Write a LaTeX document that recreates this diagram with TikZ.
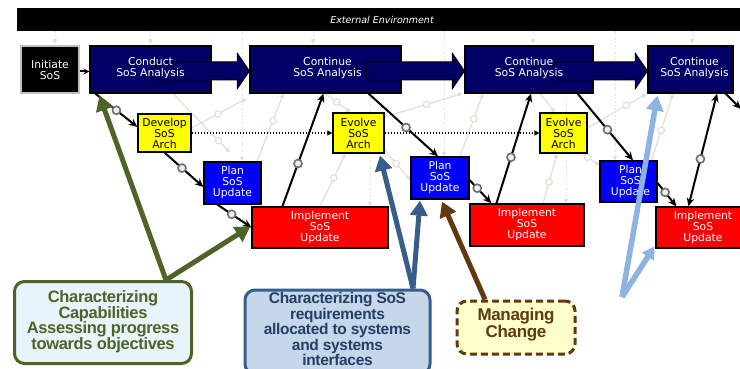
\documentclass[tikz,border=0pt]{standalone}
\usepackage{fontspec}
\setmainfont{DejaVu Sans}
\newfontfamily\calloutfont{Liberation Sans}[LetterSpace=-2]
\usetikzlibrary{arrows.meta,calc,backgrounds}

\definecolor{navyfill}{RGB}{0,0,102}
\definecolor{planblue}{RGB}{0,0,255}
\definecolor{implred}{RGB}{255,0,0}
\definecolor{archyellow}{RGB}{255,255,0}
\definecolor{ghostc}{RGB}{226,224,210}
\definecolor{gatec}{RGB}{110,110,110}
\definecolor{greenc}{RGB}{79,98,40}
\definecolor{greenfill}{RGB}{232,244,252}
\definecolor{bluec}{RGB}{56,93,138}
\definecolor{bluefill}{RGB}{198,214,235}
\definecolor{bluetext}{RGB}{36,62,100}
\definecolor{brownc}{RGB}{99,56,14}
\definecolor{brownfill}{RGB}{255,255,204}
\definecolor{skyc}{RGB}{141,179,226}

% wide block arrow from a point inside one box to the west side of the next
\newcommand{\bigflow}[2]{%
  \draw[flowarrow] let \p1=(#1), \p2=(#2) in
    (\x1,\y1+9pt) -- (\x2-12pt,\y1+9pt) -- (\x2-12pt,\y1+17.5pt) -- (\x2,\y1)
    -- (\x2-12pt,\y1-17.5pt) -- (\x2-12pt,\y1-9pt) -- (\x1,\y1-9pt) -- cycle;}

\begin{document}
\begin{tikzpicture}[x=1pt,y=-1pt,
  procbox/.style={draw=black, line width=1.2pt, inner sep=0pt},
  navybox/.style={procbox, fill=navyfill},
  archbox/.style={procbox, fill=archyellow},
  planbox/.style={procbox, fill=planblue},
  implbox/.style={procbox, fill=implred},
  boxlabel/.style={align=center, inner sep=0pt, text=white,
    font=\fontsize{10.8}{11}\selectfont},
  archlabel/.style={boxlabel, text=black},
  link/.style={draw=black, line width=2pt, -{Stealth[length=8.5pt,width=7.5pt]}},
  gate/.style={circle, draw=gatec, line width=1.6pt, fill=gray!12,
    minimum size=8pt, inner sep=0pt},
  dotlink/.style={draw=black, line width=1.4pt, dash pattern=on 1.4pt off 1.6pt,
    -{Triangle[length=5pt,width=5pt]}},
  flowarrow/.style={draw=black, line width=1pt, fill=navyfill, line join=miter},
  ghost/.style={draw=ghostc, line width=1.2pt, -{Triangle[length=4.5pt,width=4.5pt]}},
  ghostdot/.style={ghost, line width=1pt, dash pattern=on 1.5pt off 2pt},
  ghostgate/.style={circle, draw=ghostc, line width=1.2pt, fill=white,
    minimum size=6.5pt, inner sep=0pt},
  callout/.style={rounded corners=10pt, line width=3pt, align=center, inner sep=0pt},
  callouttext/.style={align=center, inner sep=0pt},
  calloutarrow/.style={line width=5pt, -{Triangle[length=15pt,width=17pt]}},
]
\useasboundingbox (0,0) rectangle (740,369);
\clip (0,0) rectangle (740,369);

% environment bar
\node[fill=black, minimum width=730, minimum height=23, inner sep=0pt, text=white,
      font=\fontsize{9.5}{10}\selectfont\itshape] (envbar) at (382,19.5) {External Environment};

% process boxes
\node[procbox, fill=black, draw=gray!50, minimum width=58, minimum height=47] (init) at (50,69.5) {};
\node[navybox, minimum width=121, minimum height=47] (conduct) at (150.5,69.5) {};
\node[navybox, minimum width=151, minimum height=47] (cont1) at (325.5,69.5) {};
\node[navybox, minimum width=128, minimum height=47] (cont2) at (529,69.5) {};
\node[navybox, minimum width=85, minimum height=47] (cont3) at (690.5,69.5) {};

\node[archbox, minimum width=53, minimum height=38] (develop) at (164.5,133) {};
\node[archbox, minimum width=51, minimum height=40] (evolve1) at (358.5,133) {};
\node[archbox, minimum width=47, minimum height=40] (evolve2) at (563.5,133) {};

\node[planbox, minimum width=57, minimum height=42] (plan1) at (232.5,183) {};
\node[planbox, minimum width=58, minimum height=42] (plan2) at (440,178) {};
\node[planbox, minimum width=57, minimum height=41] (plan3) at (628.5,181.5) {};

\node[implbox, minimum width=136, minimum height=41] (impl1) at (320,227.5) {};
\node[implbox, minimum width=114, minimum height=42] (impl2) at (527,225) {};
\node[implbox, minimum width=94, minimum height=41] (impl3) at (703,227.5) {};

% faint background iteration pattern
\begin{pgfonlayer}{background}
\fill[white] (0,0) rectangle (740,369);
\coordinate (vA) at ([xshift=9.5]plan1.north);
\coordinate (vB) at ([xshift=4]plan2.north);
\coordinate (vC) at ([xshift=-13.5]plan3.north);
\draw[ghostdot] (envbar.south -| vA) -- (vA);
\draw[ghostdot] (envbar.south -| vB) -- (vB);
\draw[ghostdot] (envbar.south -| vC) -- (vC);
\foreach \b/\s in {init/5, conduct/0, cont1/-12.5, cont2/4, cont3/1.5} {
  \coordinate (t\b) at ([xshift=\s]\b.north);
  \draw[ghostdot] (envbar.south -| t\b) -- ([yshift=1.5]t\b);
}
\draw[ghostdot] ([xshift=44.5]cont1.south) -- ([xshift=50]impl1.north);
\draw[ghostdot] ([xshift=37]cont2.south) -- ([xshift=39]impl2.north);

\draw[ghost] ([xshift=22.5]conduct.south) -- ([xshift=-2.5,yshift=9]plan1.north)
  node[ghostgate,pos=.8] (gg1) {};
\draw[ghost] ([yshift=5]develop.east) -- ([xshift=-3,yshift=-5]cont1.south west)
  node[ghostgate,pos=.48] (gg2) {};
\draw[ghost] ([xshift=24.5]plan1.north) -- ([xshift=-42]cont1.south)
  node[ghostgate,pos=.6] (gg3) {};
\draw[ghost] (impl1.north) -- ([xshift=-13]evolve1.south)
  node[ghostgate,pos=.54] (gg4) {};
\draw[ghost] (cont1.south) -- ([xshift=-8]evolve1.north)
  node[ghostgate,pos=.45] (gg5) {};
\draw[ghost] ([yshift=16]evolve1.east) -- ([xshift=-2]cont2.south west)
  node[ghostgate,pos=.54] (gg6) {};
\draw[ghost] ([yshift=-17]evolve1.east) -- ([yshift=-2]plan2.west)
  node[ghostgate,pos=.45] (gg7) {};
\draw[ghost] ([xshift=20]plan2.north) -- ([xshift=-46]cont2.south)
  node[ghostgate,pos=.6] (gg8) {};
\draw[ghost] ([xshift=16]impl2.north) -- ([xshift=-6.5]evolve2.south)
  node[ghostgate,pos=.43] (gg9) {};
\draw[ghost] ([xshift=11]cont2.south) -- ([xshift=-8.5]evolve2.north);
\draw[ghost] ([xshift=-5]evolve2.south east) -- ([yshift=-5]plan3.north west)
  node[ghostgate,pos=.3] (gg10) {};
\draw[ghost] ([yshift=5]evolve2.east) -- ([xshift=-1]cont3.south west)
  node[ghostgate,pos=.66] (gg11) {};
\draw[ghost] ([xshift=23]plan3.north) -- ([xshift=-17.5]cont3.south)
  node[ghostgate,pos=.45] (gg12) {};
\end{pgfonlayer}

% block arrows between analysis stages
\bigflow{[shift={(1.5,1.5)}]conduct.center}{cont1.west}
\bigflow{[shift={(40.5,1.5)}]cont1.center}{cont2.west}
\bigflow{[shift={(24,1.5)}]cont2.center}{cont3.west}

% box labels
\node[boxlabel] (initlbl) at (init) {Initiate\\SoS};
\node[boxlabel] (conductlbl) at ([yshift=1]conduct) {Conduct\\SoS Analysis};
\node[boxlabel] (cont1lbl) at ([shift={(2,-1)}]cont1) {Continue\\SoS Analysis};
\node[boxlabel] (cont2lbl) at ([shift={(0,-1)}]cont2) {Continue\\SoS Analysis};
\node[boxlabel] (cont3lbl) at ([shift={(4,-1)}]cont3) {Continue\\SoS Analysis};
\node[archlabel] (developlbl) at (develop) {Develop\\SoS\\Arch};
\node[archlabel] (evolve1lbl) at (evolve1) {Evolve\\SoS\\Arch};
\node[archlabel] (evolve2lbl) at (evolve2) {Evolve\\SoS\\Arch};
\node[boxlabel] (plan1lbl) at (plan1) {Plan\\SoS\\Update};
\node[boxlabel] (plan2lbl) at (plan2) {Plan\\SoS\\Update};
\node[boxlabel] (plan3lbl) at ([xshift=2]plan3) {Plan\\SoS\\Update};
\node[boxlabel] (impl1lbl) at (impl1) {Implement\\SoS\\Update};
\node[boxlabel] (impl2lbl) at (impl2) {Implement\\SoS\\Update};
\node[boxlabel] (impl3lbl) at (impl3) {Implement\\SoS\\Update};

% process flow with gates
\draw[link, -{Stealth[length=6pt,width=6pt]}] ([yshift=-2]init.east) -- ([yshift=-2]conduct.west);
\draw[link] ([xshift=6]conduct.south west) -- ([yshift=6]develop.west)
  node[gate,pos=.5] (q1) {};
\draw[link] (develop.south) -- ([yshift=-4]plan1.west)
  node[gate,pos=.45] (q2) {};
\draw[link] ([xshift=14]plan1.south west) -- (impl1.west)
  node[gate,pos=.42] (q3) {};
\draw[link] ([xshift=31]impl1.north west) -- ([xshift=-2]cont1.south)
  node[gate,pos=.38] (q4) {};
\draw[link] ([xshift=-33]cont1.south east) -- ([xshift=-2]plan2.north)
  node[gate,pos=.54] (q5) {};
\draw[link] ([yshift=-2]plan2.east) -- ([xshift=22]impl2.north west)
  node[gate,pos=.35] (q6) {};
\draw[link] ([xshift=27]impl2.north west) -- ([xshift=2]cont2.south)
  node[gate,pos=.42] (q7) {};
\draw[link] ([xshift=-16]cont2.south east) -- ([xshift=4.5]plan3.north)
  node[gate,pos=.54] (q8) {};
\draw[link] ([yshift=-1.5]plan3.east) -- ([xshift=21]impl3.north west)
  node[gate,pos=.4] (q9) {};
\draw[link, {Stealth[length=8.5pt,width=7.5pt]}-{Stealth[length=8.5pt,width=7.5pt]}]
  ([xshift=33]impl3.north west) -- ([xshift=26.5]cont3.south)
  node[gate,pos=.42] (q10) {};
\coordinate (exitR) at (741,109);
\draw[link] ([xshift=-8]cont3.south east) -- (exitR);

% architecture hand-offs
\draw[dotlink] (develop.east) -- (evolve1.west);
\draw[dotlink] (evolve1.east) -- (evolve2.west);

% callouts
\node[callout, draw=greenc, fill=greenfill, minimum width=177, minimum height=82] (greencall) at (103,322.5) {};
\node[callouttext, text=greenc, font=\calloutfont\bfseries\fontsize{16.5}{15.5}\selectfont]
  (greentxt) at ([yshift=1]greencall)
  {Characterizing\\Capabilities\\Assessing progress\\towards objectives};
\node[callout, draw=bluec, fill=bluefill, minimum width=185, minimum height=84] (bluecall) at (337.5,332) {};
\node[callouttext, text=bluetext, font=\calloutfont\bfseries\fontsize{15.5}{14}\selectfont]
  (bluetxt) at ([yshift=3]bluecall)
  {Characterizing SoS\\requirements\\allocated to systems\\and systems\\interfaces};
\node[callout, draw=brownc, fill=brownfill, dash pattern=on 7pt off 4pt, minimum width=118,
      minimum height=53] (browncall) at (516,327.5) {};
\node[callouttext, text=brownc, font=\calloutfont\bfseries\fontsize{17}{14}\selectfont]
  (browntxt) at ([yshift=3]browncall) {Managing\\Change};

\coordinate (gsrc) at ([xshift=63]greencall.north);
\draw[calloutarrow, greenc] (gsrc) -- ([xshift=10,yshift=-2]conduct.south west);
\draw[calloutarrow, greenc] (gsrc) -- ([shift={(-1,-1)}]impl1.west);

\coordinate (bsrc) at ([xshift=75.5]bluecall.north);
\draw[calloutarrow, bluec] (bsrc) -- ([xshift=21.5,yshift=-2]evolve1.south);
\draw[calloutarrow, bluec] (bsrc) -- ([xshift=-20,yshift=-1]plan2.south);

\coordinate (rsrc) at ([xshift=-31]browncall.north);
\draw[calloutarrow, brownc] (rsrc) -- ([xshift=2,yshift=-2]plan2.south);

\coordinate (ssrc) at (622,297);
\draw[calloutarrow, skyc, line width=5.5pt] (ssrc) -- ([xshift=10,yshift=-2]cont3.south west);
\draw[calloutarrow, skyc, line width=5.5pt, -{Triangle[length=12pt,width=14pt]}]
  (ssrc) -- ([xshift=-1,yshift=2]impl3.south west);
\end{tikzpicture}
\end{document}
